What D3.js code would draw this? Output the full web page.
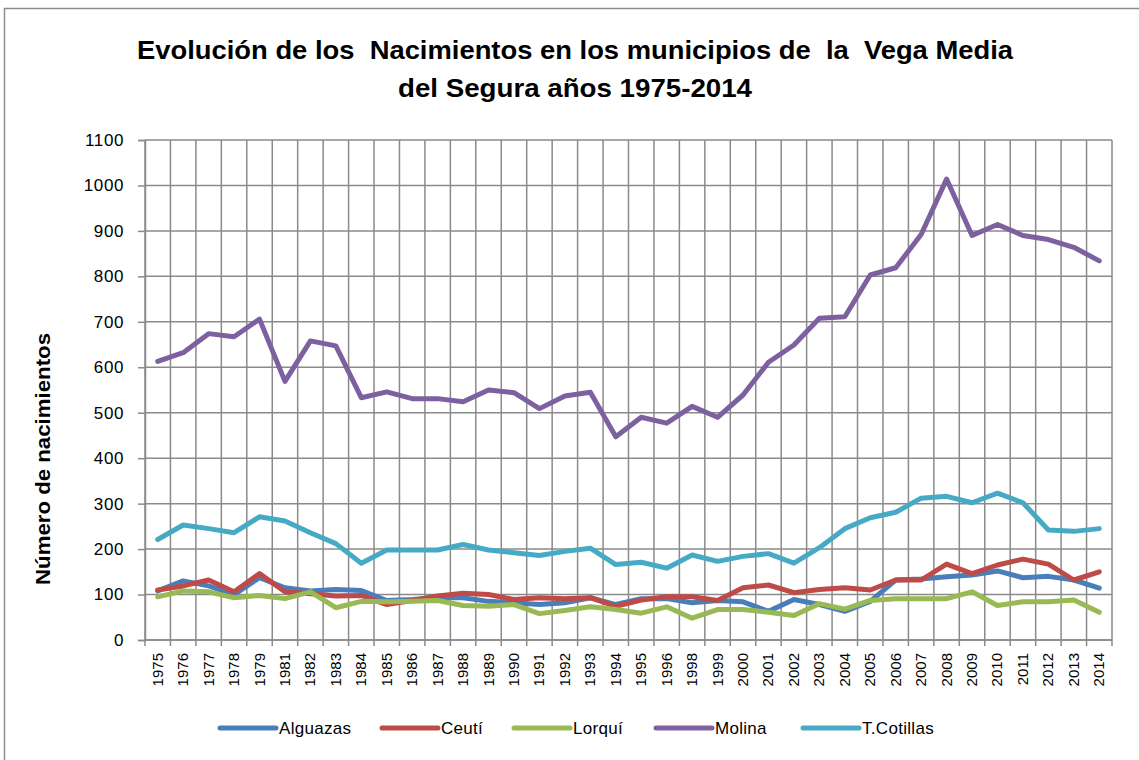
<!DOCTYPE html>
<html>
<head>
<meta charset="utf-8">
<script src="https://cdn.jsdelivr.net/npm/d3@7"></script>
<style>
  body { margin: 0; background: #fff; }
  svg { font-family: "Liberation Sans", Arial, sans-serif; }
  .title { white-space: pre; }
</style>
</head>
<body>
<svg id="chart"></svg>
<script>
const years = ["1975","1976","1977","1978","1979","1981","1982","1983","1984","1985",
  "1986","1987","1988","1989","1990","1991","1992","1993","1994","1995","1996",
  "1998","1999","2000","2001","2002","2003","2004","2005","2006","2007","2008",
  "2009","2010","2011","2012","2013","2014"];

const alguazas = [108,130,119,100,137,115,108,111,109,87,89,93,93,85,82,78,82,93,78,
  91,91,82,87,84,63,89,78,63,85,132,134,139,143,152,137,140,132,114];
const ceuti = [110,119,132,106,146,106,102,97,98,78,87,97,103,100,89,93,91,93,74,
  88,95,95,87,115,121,104,111,115,110,132,132,167,146,165,178,167,132,150];
const lorqui = [95,108,106,93,98,91,106,71,85,84,85,87,76,74,78,58,65,73,67,
  59,73,48,67,67,61,54,80,68,87,91,91,91,106,76,84,84,88,61];
const molina = [613,632,674,667,706,569,658,647,533,546,531,531,524,550,544,509,537,545,447,
  490,477,514,490,539,611,649,708,711,803,819,892,1014,890,914,890,881,864,834];
const tcotillas = [221,253,245,236,271,262,236,212,169,198,198,198,210,198,192,186,195,202,166,
  171,158,187,173,184,190,169,203,245,269,281,312,316,302,323,302,242,239,245];

const seriesNames = ["Alguazas", "Ceutí", "Lorquí", "Molina", "T.Cotillas"];
const seriesValues = [alguazas, ceuti, lorqui, molina, tcotillas];
const seriesColors = ["#4A7EBB", "#BE4B48", "#98B954", "#7D60A0", "#46AAC5"];
const yTicks = [0,100,200,300,400,500,600,700,800,900,1000,1100];

const W = 1139, H = 760;
const plot = {left: 145, right: 1112, top: 140, bottom: 640};

const svg = d3.select("#chart").attr("width", W).attr("height", H);

// chart area border
svg.append("rect")
    .attr("x", 4.5).attr("y", 8.5)
    .attr("width", W + 10).attr("height", H + 10)
    .attr("fill", "#fff")
    .attr("stroke", "#8c8c8c")
    .attr("stroke-width", 1.5);

const x = d3.scaleBand().domain(years).range([plot.left, plot.right]).padding(0);
const y = d3.scaleLinear().domain([0, 1100]).range([plot.bottom, plot.top]);

const grid = svg.append("g").attr("stroke", "#8a8a8a").attr("stroke-width", 1.5);

// horizontal gridlines
grid.selectAll("line.h")
    .data(yTicks)
    .enter().append("line")
    .attr("class", "h")
    .attr("x1", plot.left).attr("x2", plot.right)
    .attr("y1", d => y(d)).attr("y2", d => y(d));

// vertical gridlines at category boundaries
const bounds = years.map(d => x(d)).concat([plot.right]);
grid.selectAll("line.v")
    .data(bounds)
    .enter().append("line")
    .attr("class", "v")
    .attr("x1", d => d).attr("x2", d => d)
    .attr("y1", plot.top).attr("y2", plot.bottom + 6);

// y axis
const yAxis = svg.append("g")
    .attr("transform", `translate(${plot.left},0)`)
    .call(d3.axisLeft(y).tickValues(yTicks).tickFormat(d3.format("d")).tickSize(7).tickPadding(14));
yAxis.select(".domain").attr("stroke", "#8a8a8a").attr("stroke-width", 1.5);
yAxis.selectAll(".tick line").attr("stroke", "#8a8a8a").attr("stroke-width", 1.5);
yAxis.selectAll(".tick text")
    .attr("fill", "#000")
    .style("font-size", "17px")
    .style("letter-spacing", "0.6px");

// x axis line
svg.append("line")
    .attr("x1", plot.left).attr("x2", plot.right)
    .attr("y1", plot.bottom).attr("y2", plot.bottom)
    .attr("stroke", "#8a8a8a").attr("stroke-width", 1.5);

// x labels, rotated
svg.append("g").selectAll("text")
    .data(years)
    .enter().append("text")
    .attr("transform", d => `translate(${x(d) + x.bandwidth() / 2 + 5},${plot.bottom + 13}) rotate(-90)`)
    .attr("text-anchor", "end")
    .style("font-size", "15px")
    .text(d => d);

// series lines
const line = d3.line()
    .x((d, i) => x(years[i]) + x.bandwidth() / 2)
    .y(d => y(d));

svg.append("g").selectAll("path")
    .data(seriesValues)
    .enter().append("path")
    .attr("d", d => line(d))
    .attr("fill", "none")
    .attr("stroke", (d, i) => seriesColors[i])
    .attr("stroke-width", 5)
    .attr("stroke-linejoin", "round")
    .attr("stroke-linecap", "round");

// title
svg.append("text")
    .attr("class", "title")
    .attr("x", 575).attr("y", 59)
    .attr("text-anchor", "middle")
    .attr("textLength", 876).attr("lengthAdjust", "spacingAndGlyphs")
    .style("font-size", "26px").style("font-weight", "bold")
    .text("Evolución de los  Nacimientos en los municipios de  la  Vega Media");
svg.append("text")
    .attr("class", "title")
    .attr("x", 575).attr("y", 97)
    .attr("text-anchor", "middle")
    .attr("textLength", 354).attr("lengthAdjust", "spacingAndGlyphs")
    .style("font-size", "26px").style("font-weight", "bold")
    .text("del Segura años 1975-2014");

// y axis title
svg.append("text")
    .attr("transform", "translate(50,459) rotate(-90)")
    .attr("text-anchor", "middle")
    .attr("textLength", 252).attr("lengthAdjust", "spacingAndGlyphs")
    .style("font-size", "21px").style("font-weight", "bold")
    .text("Número de nacimientos");

// legend
const legendX = [220, 382, 514, 656, 803];
const legend = svg.append("g").selectAll("g")
    .data(seriesNames)
    .enter().append("g")
    .attr("transform", (d, i) => `translate(${legendX[i]},728)`);
legend.append("line")
    .attr("x1", 0).attr("x2", 56)
    .attr("stroke", (d, i) => seriesColors[i])
    .attr("stroke-width", 5)
    .attr("stroke-linecap", "round");
legend.append("text")
    .attr("x", 59).attr("y", 6)
    .style("font-size", "17px")
    .style("letter-spacing", "0.3px")
    .text(d => d);
</script>
</body>
</html>
